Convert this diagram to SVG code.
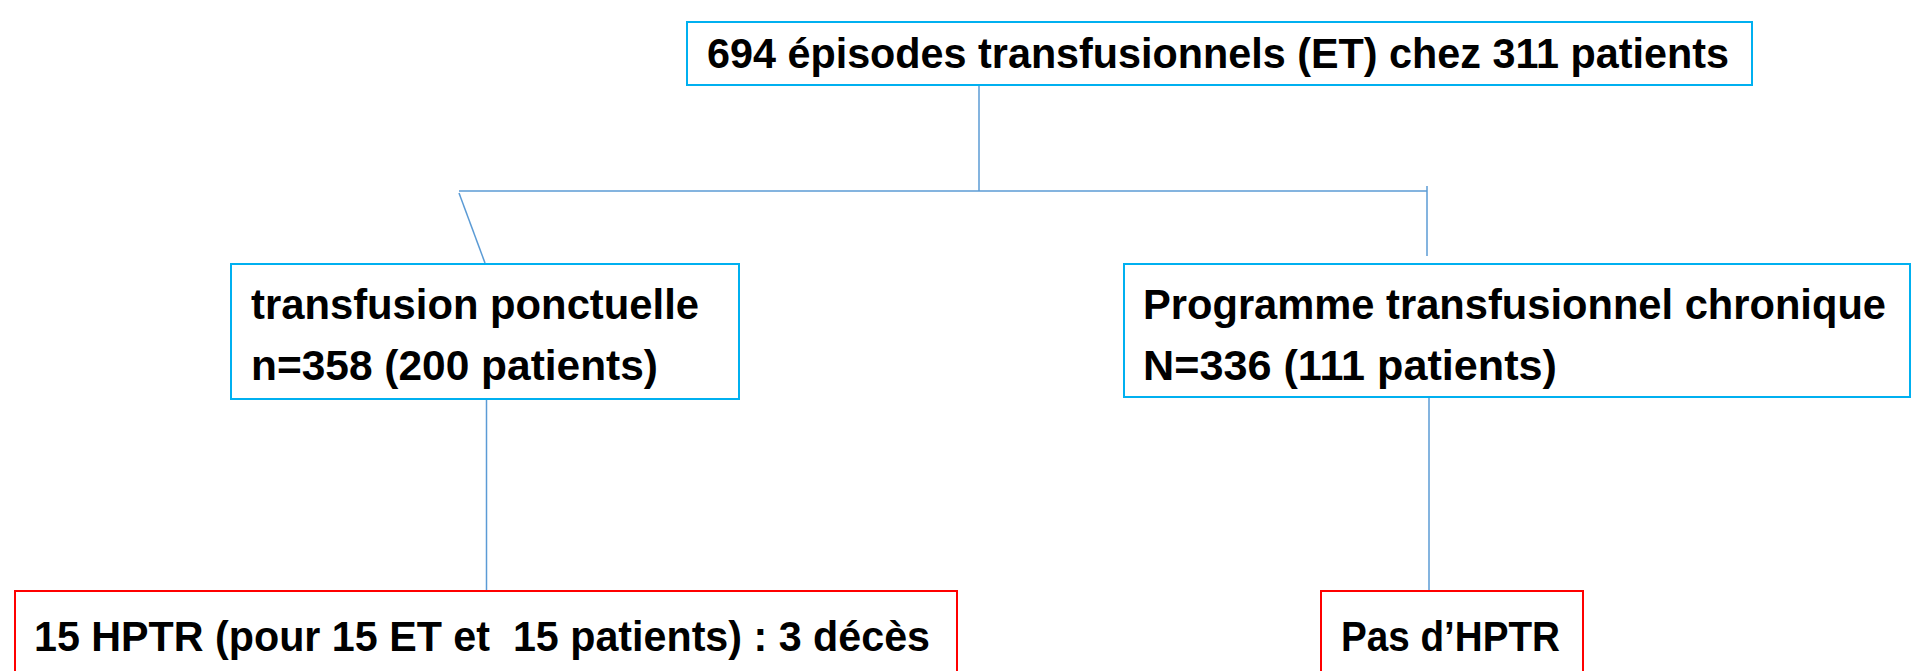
<svg xmlns="http://www.w3.org/2000/svg" width="1912" height="671" viewBox="0 0 1912 671">
<style>
.blue{fill:#fff;stroke:#00B0F0;stroke-width:2}
.red{fill:#fff;stroke:#FF0000;stroke-width:2}
.t{font-family:"Liberation Sans",Arial,sans-serif;font-weight:bold;font-size:43px;fill:#000;white-space:pre}
.c{fill:none;stroke:#5B9BD5;stroke-width:1.5}
</style>
<rect width="1912" height="671" fill="#fff"/>
<g id="connectors">
<line class="c" x1="979" y1="85" x2="979" y2="191"/>
<line class="c" x1="459" y1="191" x2="1427" y2="191"/>
<line class="c" x1="459" y1="193" x2="485" y2="263"/>
<line class="c" x1="1427" y1="186" x2="1427" y2="256"/>
<line class="c" x1="486.5" y1="399" x2="486.5" y2="591"/>
<line class="c" x1="1429" y1="386" x2="1429" y2="591"/>
</g>
<g id="n1">
<rect class="blue" x="687" y="22" width="1065" height="63"/>
<text class="t" x="707" y="68" textLength="1022" lengthAdjust="spacingAndGlyphs">694 épisodes transfusionnels (ET) chez 311 patients</text>
</g>
<g id="n2">
<rect class="blue" x="231" y="264" width="508" height="135"/>
<text class="t" x="251" y="319" textLength="448" lengthAdjust="spacingAndGlyphs">transfusion ponctuelle</text>
<text class="t" x="251" y="380" textLength="407" lengthAdjust="spacingAndGlyphs">n=358 (200 patients)</text>
</g>
<g id="n3">
<rect class="blue" x="1124" y="264" width="786" height="133"/>
<text class="t" x="1143" y="319" textLength="743" lengthAdjust="spacingAndGlyphs">Programme transfusionnel chronique</text>
<text class="t" x="1143" y="380" textLength="414" lengthAdjust="spacingAndGlyphs">N=336 (111 patients)</text>
</g>
<g id="n4">
<rect class="red" x="15" y="591" width="942" height="90"/>
<text class="t" x="34" y="651" textLength="896" lengthAdjust="spacingAndGlyphs" xml:space="preserve">15 HPTR (pour 15 ET et  15 patients) : 3 décès</text>
</g>
<g id="n5">
<rect class="red" x="1321" y="591" width="262" height="90"/>
<text class="t" x="1341" y="651" textLength="219" lengthAdjust="spacingAndGlyphs">Pas d’HPTR</text>
</g>
</svg>
